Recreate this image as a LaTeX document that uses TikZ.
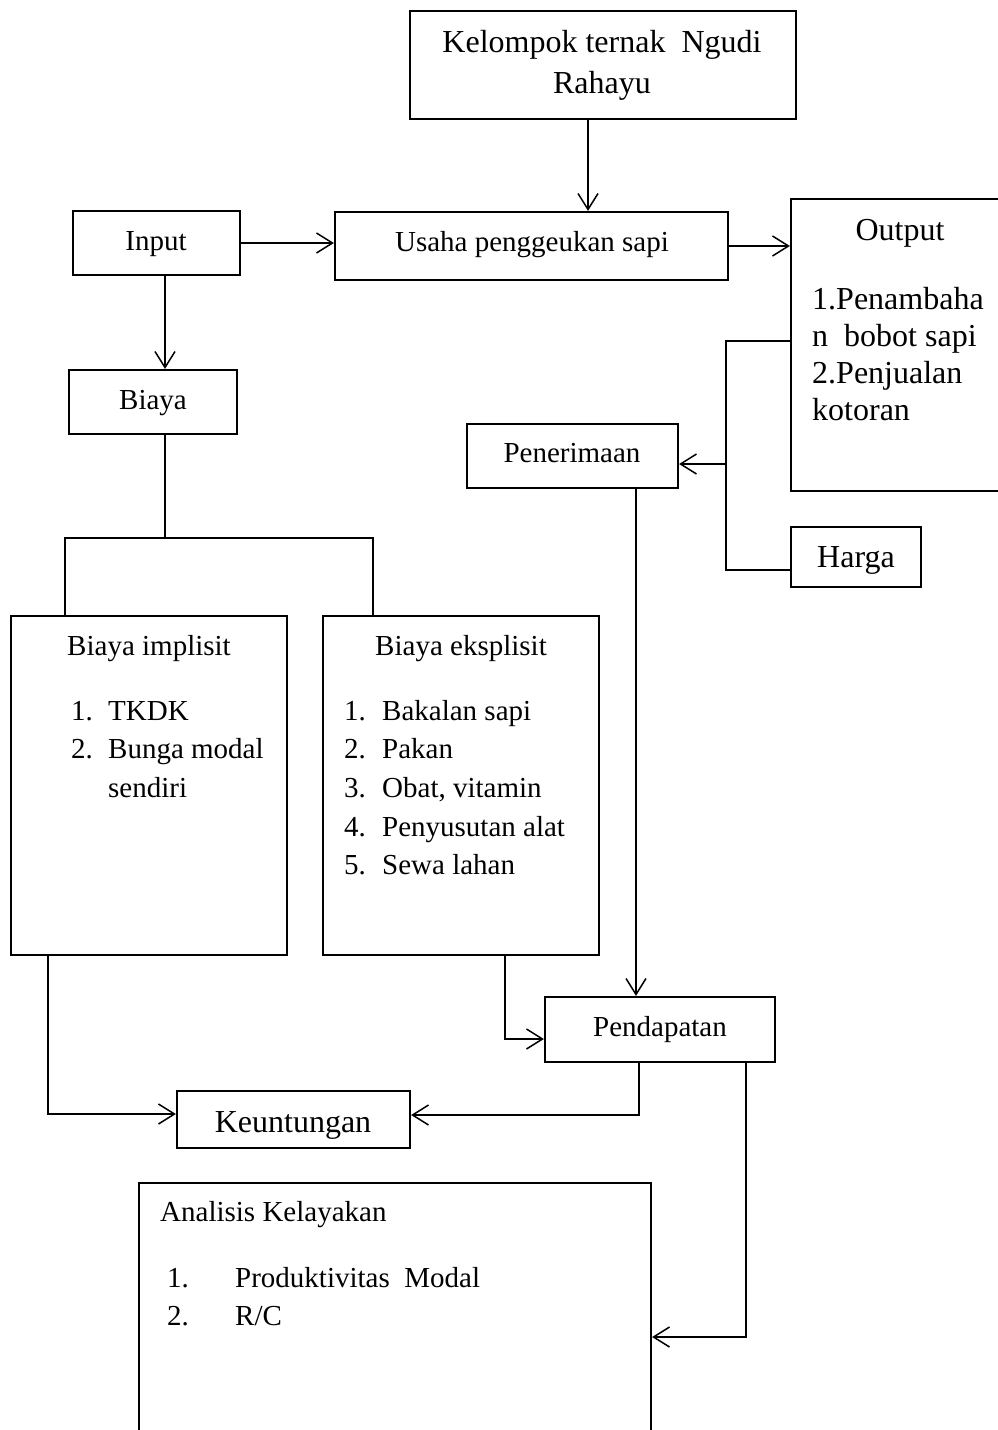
\documentclass[tikz,border=0pt]{standalone}
\usepackage{fontspec}
\setmainfont{Liberation Serif}
\usetikzlibrary{arrows.meta}
\newcommand\txa{\fontsize{29}{35}\selectfont}
\newcommand\txb{\fontsize{32}{38}\selectfont}
\tikzset{
 box/.style={draw, line width=2.2pt, inner sep=0pt},
 conn/.style={line width=1.5pt},
 arr/.style={conn, -{Straight Barb[length=16pt,width=20pt]}},
 ta/.style={font=\txa, inner sep=0pt, anchor=base},
 tl/.style={font=\txa, inner sep=0pt, anchor=base west},
 tb/.style={font=\txb, inner sep=0pt, anchor=base},
 tbl/.style={font=\txb, inner sep=0pt, anchor=base west},
}
\begin{document}
\begin{tikzpicture}[x=1pt,y=-1pt]
\useasboundingbox (0,0) rectangle (998,1430);
\fill[white] (0,0) rectangle (998,1430);
% boxes
\node[box, minimum width=386pt, minimum height=108pt] (kel) at (603,65) {};
\node[box, minimum width=393pt, minimum height=68pt] (usaha) at (531.5,246) {};
\node[box, minimum width=167pt, minimum height=64pt] (input) at (156.5,243) {};
\node[box, minimum width=212pt, minimum height=292pt] (output) at (897,345) {};
\node[box, minimum width=130pt, minimum height=60pt] (harga) at (856,557) {};
\node[box, minimum width=211pt, minimum height=64pt] (pener) at (572.5,456) {};
\node[box, minimum width=168pt, minimum height=64pt] (biaya) at (153,402) {};
\node[box, minimum width=276pt, minimum height=339pt] (impl) at (149,785.5) {};
\node[box, minimum width=276pt, minimum height=339pt] (eks) at (461,785.5) {};
\node[box, minimum width=230pt, minimum height=65pt] (pend) at (660,1029.5) {};
\node[box, minimum width=233pt, minimum height=57pt] (keu) at (293.5,1119.5) {};
\node[box, minimum width=512pt, minimum height=257pt] (anal) at (395,1311.5) {};
% texts
\node[tb] (tkel1) at (602,52) {Kelompok ternak\ \ Ngudi};
\node[tb] (tkel2) at (602,93) {Rahayu};
\node[ta] (tusaha) at (532,251) {Usaha penggeukan sapi};
\node[ta] (tinput) at (156,250) {Input};
\node[tb] (tout) at (900,240) {Output};
\node[tbl] (to1) at (812,309) {1.Penambaha};
\node[tbl] (to2) at (812,346) {n\ \ bobot sapi};
\node[tbl] (to3) at (812,383) {2.Penjualan};
\node[tbl] (to4) at (812,420) {kotoran};
\node[ta] (tbiaya) at (153,409) {Biaya};
\node[ta] (tpen) at (572,462) {Penerimaan};
\node[tb] (tharga) at (856,567) {Harga};
\node[ta] (timp) at (149,655) {Biaya implisit};
\node[tl] (ti1) at (71,720) {\makebox[37pt][l]{1.}TKDK};
\node[tl] (ti2) at (71,758) {\makebox[37pt][l]{2.}Bunga modal};
\node[tl] (ti3) at (108,797) {sendiri};
\node[ta] (teks) at (461,655) {Biaya eksplisit};
\node[tl] (te1) at (344,720) {\makebox[38pt][l]{1.}Bakalan sapi};
\node[tl] (te2) at (344,758) {\makebox[38pt][l]{2.}Pakan};
\node[tl] (te3) at (344,797) {\makebox[38pt][l]{3.}Obat, vitamin};
\node[tl] (te4) at (344,836) {\makebox[38pt][l]{4.}Penyusutan alat};
\node[tl] (te5) at (344,874) {\makebox[38pt][l]{5.}Sewa lahan};
\node[ta] (tpend) at (660,1036) {Pendapatan};
\node[tb] (tkeu) at (293,1132) {Keuntungan};
\node[tl] (tanal) at (160,1221) {Analisis Kelayakan};
\node[tl] (ta1) at (167,1287) {\makebox[68pt][l]{1.}Produktivitas\ \ Modal};
\node[tl] (ta2) at (167,1325) {\makebox[68pt][l]{2.}R/C};
% coordinates
\coordinate (fork) at (165,538);
\coordinate (jx) at (726,570);
\coordinate (pe) at ([yshift=-8pt]pener.east);
% connectors
\draw[arr] ([xshift=-15pt]kel.south) -- ([xshift=-15pt]kel.south |- usaha.north);
\draw[arr] (input.east) -- (input.east -| usaha.west);
\draw[arr] (usaha.east) -- (usaha.east -| output.west);
\draw[arr] ([xshift=8.5pt]input.south) -- ([xshift=8.5pt]input.south |- biaya.north);
\draw[conn] ([xshift=12pt]biaya.south) -- (fork);
\draw[conn] ([xshift=-84pt]impl.north) |- (fork) -| ([xshift=-88pt]eks.north);
\draw[conn] ([yshift=4pt]output.west) -| (jx) -- (jx -| harga.west);
\draw[arr] (jx |- pe) -- (pe);
\draw[arr] ([xshift=63.5pt]pener.south) -- ([xshift=63.5pt]pener.south |- pend.north);
\draw[arr] ([xshift=44pt]eks.south) |- ([yshift=-9.5pt]pend.west);
\draw[arr] ([xshift=-101pt]impl.south) |- ([yshift=5.5pt]keu.west);
\draw[arr] ([xshift=-21pt]pend.south) |- ([yshift=4.5pt]keu.east);
\draw[arr] ([xshift=86pt]pend.south) |- ([yshift=-25.5pt]anal.east);
\end{tikzpicture}
\end{document}
